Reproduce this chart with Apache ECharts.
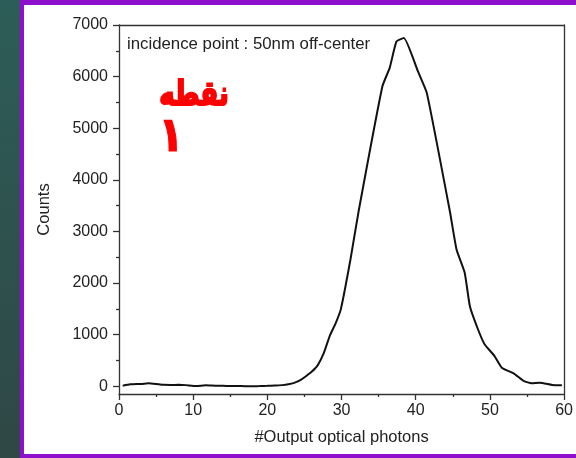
<!DOCTYPE html>
<html>
<head>
<meta charset="utf-8">
<script src="https://cdn.jsdelivr.net/npm/echarts@6/dist/echarts.min.js"></script>
<style>html,body{margin:0;padding:0;background:#fff}#c{width:576px;height:458px}</style>
</head>
<body>
<div id="c"></div>
<script>
// Data
const photons = [0.5, 1.5, 3, 4, 5, 6, 7, 8, 9, 10.4, 11.7, 13, 14, 15, 16, 17, 18, 19, 20, 21, 22, 23, 23.7, 24.5, 25.2, 26, 26.8, 27.6, 28.4, 29.2, 29.9, 31.2, 32.3, 35.5, 36.5, 37.4, 38.4, 40.3, 41.5, 44.6, 45.5, 46.6, 47.3, 48.4, 49.3, 50.6, 51.6, 53.2, 54.6, 55.6, 56.7, 58.4, 59.7];
const counts  = [10, 38, 45, 58, 45, 28, 25, 28, 22, 6, 18, 10, 8, 6, 5, 2, 0, 3, 8, 15, 22, 45, 71, 125, 195, 285, 410, 640, 973, 1220, 1490, 2456, 3390, 5808, 6175, 6680, 6750, 6100, 5680, 3390, 2650, 2200, 1550, 1100, 810, 590, 360, 250, 100, 58, 70, 26, 20];
const yTickLabels = [0, 1000, 2000, 3000, 4000, 5000, 6000, 7000];
const yMinorTicks = [500, 1500, 2500, 3500, 4500, 5500, 6500];
const xTickLabels = [0, 10, 20, 30, 40, 50, 60];

const seriesData = photons.map((p, i) => [p, counts[i]]);
const font = 'Arial';
const chart = echarts.init(document.getElementById('c'));
chart.setOption({
  animation: false,
  backgroundColor: '#ffffff',
  graphic: [
    { type: 'rect', z: -100, shape: { x: 0, y: 0, width: 20, height: 458 },
      style: { fill: new echarts.graphic.LinearGradient(0, 0, 0, 1, [{offset: 0, color: '#2d5d58'}, {offset: 1, color: '#2f4745'}]) } },
    { type: 'rect', z: -99, shape: { x: 20, y: 0, width: 556, height: 458 }, style: { fill: '#8e10cc' } },
    { type: 'rect', z: -98, shape: { x: 24, y: 5, width: 552, height: 449 }, style: { fill: '#ffffff' } },
    { type: 'text', z: 10, x: 127, y: 44,
      style: { text: 'incidence point : 50nm off-center', font: '16.8px Arial', fill: '#222', verticalAlign: 'middle' } },
    { type: 'text', z: 10, x: 194, y: 96, scaleY: 1.3,
      style: { text: 'نقطه', font: 'bold 26px "DejaVu Sans"', fill: '#ff0000', stroke: '#ff0000', lineWidth: 1.6, align: 'center', verticalAlign: 'middle' } },
    { type: 'text', z: 10, x: 171, y: 138, scaleY: 1.15,
      style: { text: '١', font: 'bold 42px "DejaVu Sans"', fill: '#ff0000', stroke: '#ff0000', lineWidth: 1, align: 'center', verticalAlign: 'middle' } }
  ],
  grid: { left: 119, right: 7, top: 25, bottom: 64, containLabel: false },
  xAxis: [
    { type: 'value', min: 0, max: 60, interval: 10, position: 'bottom',
      name: '#Output optical photons', nameLocation: 'middle', nameGap: 35,
      nameTextStyle: { fontFamily: font, fontSize: 16.5, color: '#222' },
      axisLine: { onZero: false, lineStyle: { color: '#333', width: 1.3 } },
      axisTick: { length: 6, lineStyle: { color: '#333', width: 1.3 } },
      minorTick: { show: true, splitNumber: 2, length: 3, lineStyle: { color: '#333', width: 1.3 } },
      axisLabel: { fontFamily: font, fontSize: 16, color: '#222', margin: 9,
        customValues: xTickLabels, formatter: v => String(v) },
      splitLine: { show: false } },
    { type: 'value', min: 0, max: 60, position: 'top',
      axisLine: { show: true, onZero: false, lineStyle: { color: '#333', width: 1.3 } },
      axisTick: { show: false }, axisLabel: { show: false }, splitLine: { show: false } }
  ],
  yAxis: [
    { type: 'value', min: -150, max: 7000, position: 'left',
      name: 'Counts', nameLocation: 'middle', nameGap: 66, nameRotate: 90,
      nameTextStyle: { fontFamily: font, fontSize: 16.5, color: '#222' },
      axisLine: { show: true, onZero: false, lineStyle: { color: '#333', width: 1.3 } },
      axisTick: { show: true, length: 6, customValues: yTickLabels, lineStyle: { color: '#333', width: 1.3 } },
      axisLabel: { fontFamily: font, fontSize: 16, color: '#222', margin: 11, customValues: yTickLabels,
        formatter: v => String(v) },
      splitLine: { show: false } },
    { type: 'value', min: -150, max: 7000, position: 'left',
      axisLine: { show: false, onZero: false },
      axisTick: { show: true, length: 3, customValues: yMinorTicks, lineStyle: { color: '#333', width: 1.3 } },
      axisLabel: { show: false }, splitLine: { show: false } },
    { type: 'value', min: -150, max: 7000, position: 'right',
      axisLine: { show: true, onZero: false, lineStyle: { color: '#333', width: 1.3 } },
      axisTick: { show: false }, axisLabel: { show: false }, splitLine: { show: false } }
  ],
  series: [
    { type: 'line', data: seriesData, showSymbol: false, smooth: 0.15,
      lineStyle: { color: '#111', width: 2 }, xAxisIndex: 0, yAxisIndex: 0 }
  ]
});
</script>
</body>
</html>
